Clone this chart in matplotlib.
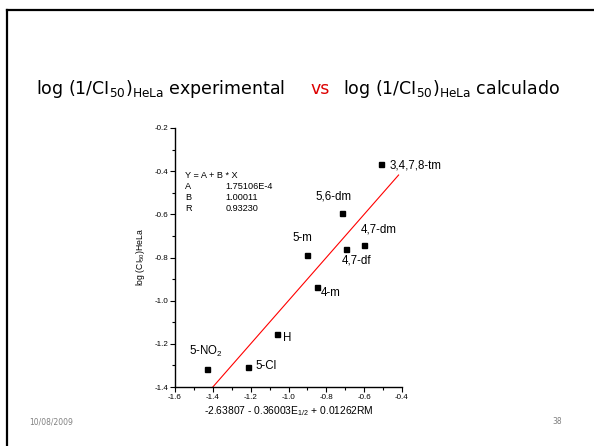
import numpy as np
import matplotlib.pyplot as plt
from matplotlib.lines import Line2D
from matplotlib.ticker import MultipleLocator

plt.rcParams['mathtext.default'] = 'regular'

# data
labels = ['3,4,7,8-tm', '5,6-dm', '4,7-dm', '4,7-df', '5-m', '4-m', 'H', '5-Cl', '5-NO$_2$']
x_calc = [-0.509, -0.718, -0.603, -0.695, -0.903, -0.850, -1.060, -1.215, -1.432]
y_exp = [-0.366, -0.596, -0.742, -0.759, -0.788, -0.937, -1.153, -1.308, -1.316]
label_pos = [(-0.468, -0.374), (-0.859, -0.518), (-0.618, -0.668), (-0.717, -0.813),
             (-0.981, -0.711), (-0.828, -0.965), (-1.029, -1.173), (-1.177, -1.304),
             (-1.526, -1.235)]

fit_A = 1.75106e-4
fit_B = 1.00011
fit_R = 0.93230
fit_x = [-1.40, -0.418]

fig = plt.figure(figsize=(5.94, 4.46), dpi=100)

# slide frame
fig.add_artist(Line2D([7/594, 7/594], [0, 1 - 10/446], color='black', lw=1.6,
                      transform=fig.transFigure))
fig.add_artist(Line2D([7/594, 1], [1 - 10/446, 1 - 10/446], color='black', lw=1.6,
                      transform=fig.transFigure))

# title, in three pieces so "vs" can be red
tfont = dict(family='DejaVu Sans', fontsize=12.5, va='center')
fig.text(36/594, 1 - 89/446, r'log (1/CI$_{50}$)$_{HeLa}$ experimental', **tfont)
fig.text(310/594, 1 - 89/446, 'vs', color='#dd0000', **tfont)
fig.text(343/594, 1 - 89/446, r'log (1/CI$_{50}$)$_{HeLa}$ calculado', **tfont)

# footer
fig.text(29/594, 1 - 422/446, '10/08/2009', fontsize=5.5, color='#808080', va='center')
fig.text(562/594, 1 - 422/446, '38', fontsize=5.5, color='#808080', va='center', ha='right')

ax = fig.add_axes([175/594, 59/446, 227/594, 259/446])
cfont = 'Liberation Sans'

ax.plot(x_calc, y_exp, 's', color='black', ms=3.6, clip_on=False)
fx = np.array(fit_x)
ax.plot(fx, fit_A + fit_B * fx, color='red', lw=0.8)

for lab, (lx, ly) in zip(labels, label_pos):
    ax.text(lx, ly, lab, family=cfont, fontsize=8.3, va='center', ha='left')

# fit parameters
ax.text(-1.547, -0.419, 'Y = A + B * X', family=cfont, fontsize=6.6, va='center')
rows = [('A', '1.75106E-4'), ('B', '1.00011'), ('R', '0.93230')]
for i, (k, v) in enumerate(rows):
    yy = -0.471 - 0.0515 * i
    ax.text(-1.547, yy, k, family=cfont, fontsize=6.6, va='center')
    ax.text(-1.335, yy, v, family=cfont, fontsize=6.6, va='center')

ax.set_xlim(-1.6, -0.4)
ax.set_ylim(-1.4, -0.2)
ax.xaxis.set_major_locator(MultipleLocator(0.2))
ax.xaxis.set_minor_locator(MultipleLocator(0.1))
ax.yaxis.set_major_locator(MultipleLocator(0.2))
ax.yaxis.set_minor_locator(MultipleLocator(0.1))
ax.xaxis.set_major_formatter(lambda v, p: f'{v:.1f}')
ax.yaxis.set_major_formatter(lambda v, p: f'{v:.1f}')
ax.tick_params(which='major', direction='out', length=3.5, width=0.8, labelsize=5.8, pad=1.5)
ax.tick_params(which='minor', direction='out', length=2, width=0.8)
for t in ax.get_xticklabels() + ax.get_yticklabels():
    t.set_family(cfont)

for s in ['top', 'right']:
    ax.spines[s].set_visible(False)
for s in ['left', 'bottom']:
    ax.spines[s].set_linewidth(1.0)

ax.set_xlabel(r'-2.63807 - 0.36003E$_{1/2}$ + 0.01262RM', family=cfont, fontsize=7.4, labelpad=2)
ax.set_ylabel(r'log (CI$_{50}$)HeLa', family=cfont, fontsize=6.2, labelpad=5)

fig.savefig('out.png', dpi=100)
